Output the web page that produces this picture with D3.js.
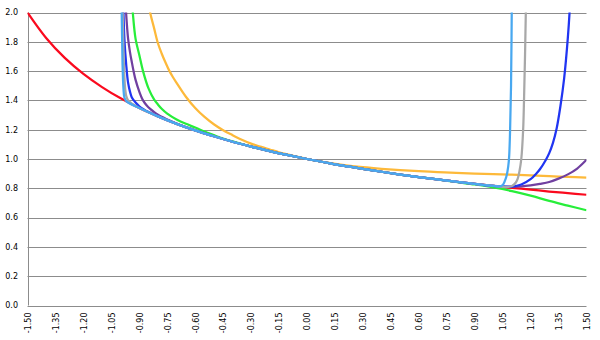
<!DOCTYPE html>
<html>
<head>
<meta charset="utf-8">
<script src="https://cdn.jsdelivr.net/npm/d3@7"></script>
<style>
  body { margin: 0; background: #fff; }
  text { font-family: "DejaVu Sans", Verdana, sans-serif; font-size: 8px; fill: #000; }
</style>
</head>
<body>
<script>
// tick labels
const xTickLabels = ["-1.50","-1.35","-1.20","-1.05","-0.90","-0.75","-0.60","-0.45","-0.30","-0.15",
  "0.00","0.15","0.30","0.45","0.60","0.75","0.90","1.05","1.20","1.35","1.50"];
const yTickLabels = ["0.0","0.2","0.4","0.6","0.8","1.0","1.2","1.4","1.6","1.8","2.0"];

// series values
const redX = [-1.5,-1.4,-1.3,-1.2,-1.1,-1.0,-0.9,-0.8,-0.7,-0.6,-0.5,-0.4,-0.3,-0.2,-0.1,0,
  0.1,0.2,0.3,0.4,0.5,0.6,0.7,0.8,0.9,1.0,1.1,1.2,1.3,1.4,1.5];
const redY = [2.0,1.826,1.690,1.581,1.491,1.414,1.348,1.291,1.240,1.195,1.155,1.118,1.085,1.054,1.026,1.0,
  0.976,0.953,0.933,0.913,0.894,0.877,0.861,0.845,0.830,0.816,0.803,0.791,0.778,0.767,0.756];

const orangeX = [-0.85,-0.842,-0.82,-0.8,-0.78,-0.76,-0.74,-0.72,-0.7,-0.65,-0.6,-0.55,-0.5,-0.45,-0.4,
  -0.35,-0.3,-0.25,-0.2,-0.15,-0.1,-0.05,0,0.1,0.2,0.3,0.4,0.5,0.6,0.7,0.8,0.9,1.0,1.1,1.2,1.3,1.4,1.5];
const orangeY = [2.06,2.0,1.89,1.79,1.72,1.66,1.605,1.56,1.52,1.425,1.348,1.287,1.237,1.196,1.163,
  1.132,1.105,1.084,1.065,1.046,1.03,1.014,1.0,0.977,0.958,0.944,0.933,0.924,0.917,0.911,0.905,0.901,0.897,0.893,0.888,0.883,0.878,0.873];

const greenX = [-0.94,-0.935,-0.92,-0.9,-0.88,-0.85,-0.82,-0.8,-0.78,-0.75,-0.7,-0.65,-0.6,-0.55,-0.5,
  -0.45,-0.4,-0.3,-0.2,-0.1,0,0.1,0.2,0.3,0.4,0.5,0.6,0.7,0.8,0.9,1.0,1.1,1.2,1.3,1.4,1.5];
const greenY = [2.08,2.0,1.82,1.71,1.60,1.48,1.405,1.372,1.343,1.31,1.27,1.24,1.215,1.187,1.163,
  1.14,1.12,1.085,1.054,1.026,1.0,0.976,0.953,0.933,0.913,0.894,0.877,0.861,0.843,0.826,0.806,0.781,0.75,0.714,0.682,0.65];

const purpleX = [-0.975,-0.971,-0.965,-0.96,-0.95,-0.94,-0.93,-0.92,-0.9,-0.88,-0.86,-0.84,-0.82,-0.8,-0.78,
  -0.75,-0.7,-0.6,-0.5,-0.4,-0.3,-0.2,-0.1,0,0.1,0.2,0.3,0.4,0.5,0.6,0.7,0.8,0.9,1.0,
  1.05,1.1,1.15,1.2,1.25,1.3,1.35,1.4,1.45,1.5];
const purpleY = [2.1,2.0,1.89,1.82,1.73,1.66,1.595,1.54,1.46,1.40,1.365,1.34,1.32,1.303,1.288,
  1.27,1.242,1.195,1.155,1.118,1.085,1.054,1.026,1.0,0.976,0.953,0.933,0.913,0.894,0.877,0.861,0.845,0.830,0.816,
  0.812,0.81,0.813,0.82,0.83,0.843,0.866,0.895,0.935,0.995];

const blueX = [-0.99,-0.985,-0.98,-0.975,-0.97,-0.965,-0.96,-0.95,-0.94,-0.92,-0.9,-0.88,-0.85,-0.8,-0.7,
  -0.6,-0.5,-0.4,-0.3,-0.2,-0.1,0,0.1,0.2,0.3,0.4,0.5,0.6,0.7,0.8,0.9,1.0,
  1.1,1.15,1.2,1.23,1.25,1.28,1.3,1.32,1.34,1.36,1.38,1.4,1.41,1.415];
const blueY = [2.35,2.0,1.82,1.72,1.64,1.57,1.52,1.46,1.42,1.385,1.36,1.342,1.32,1.291,1.24,
  1.195,1.155,1.118,1.085,1.054,1.026,1.0,0.976,0.953,0.933,0.913,0.894,0.877,0.861,0.845,0.830,0.816,
  0.812,0.826,0.862,0.9,0.93,0.99,1.04,1.11,1.21,1.36,1.55,1.83,2.02,2.15];

const grayX = [-0.995,-0.99,-0.985,-0.98,-0.975,-0.97,-0.96,-0.95,-0.94,-0.9,-0.8,-0.7,-0.6,-0.5,-0.4,
  -0.3,-0.2,-0.1,0,0.1,0.2,0.3,0.4,0.5,0.6,0.7,0.8,0.9,1.0,
  1.05,1.08,1.1,1.12,1.13,1.14,1.15,1.16,1.165,1.17,1.175,1.18];
const grayY = [2.35,2.05,1.75,1.56,1.47,1.43,1.40,1.388,1.377,1.348,1.291,1.24,1.195,1.155,1.118,
  1.085,1.054,1.026,1.0,0.976,0.953,0.933,0.913,0.894,0.877,0.861,0.845,0.830,0.816,
  0.81,0.809,0.815,0.838,0.862,0.915,1.0,1.2,1.42,1.7,2.05,2.4];

const lightBlueX = [-1.0,-0.995,-0.99,-0.985,-0.98,-0.97,-0.9,-0.8,-0.7,-0.6,-0.5,-0.4,-0.3,-0.2,-0.1,0,
  0.1,0.2,0.3,0.4,0.5,0.6,0.7,0.8,0.9,1.0,1.03,1.05,1.06,1.07,1.08,1.085,1.09,1.095,1.1];
const lightBlueY = [2.5,2.05,1.65,1.48,1.42,1.395,1.348,1.291,1.24,1.195,1.155,1.118,1.085,1.054,1.026,1.0,
  0.976,0.953,0.933,0.913,0.894,0.877,0.861,0.845,0.830,0.816,0.813,0.822,0.845,0.88,0.95,1.02,1.2,1.5,2.2];

// draw order: last one ends up on top
const series = [
  {x: redX, y: redY, color: "#fa0a1e"},
  {x: orangeX, y: orangeY, color: "#fdb93a"},
  {x: greenX, y: greenY, color: "#27ee3a"},
  {x: purpleX, y: purpleY, color: "#7040a0"},
  {x: blueX, y: blueY, color: "#2035f2"},
  {x: grayX, y: grayY, color: "#a8a8a8"},
  {x: lightBlueX, y: lightBlueY, color: "#48a8f0"}
];

const width = 600, height = 340;
const margin = {top: 12.5, right: 13.5, bottom: 34.5, left: 27.5};

const svg = d3.select("body").append("svg")
  .attr("width", width)
  .attr("height", height);

const x = d3.scaleLinear()
  .domain([+xTickLabels[0], +xTickLabels[xTickLabels.length - 1]])
  .range([margin.left, width - margin.right]);
const y = d3.scaleLinear()
  .domain([+yTickLabels[0], +yTickLabels[yTickLabels.length - 1]])
  .range([height - margin.bottom, margin.top]);

// horizontal gridlines
svg.append("g")
  .selectAll("line")
  .data(yTickLabels.slice(1))
  .join("line")
    .attr("x1", margin.left)
    .attr("x2", width - margin.right)
    .attr("y1", d => Math.round(y(+d)) + 0.5)
    .attr("y2", d => Math.round(y(+d)) + 0.5)
    .attr("stroke", "#8c8c8c")
    .attr("stroke-width", 1);

// y labels
svg.append("g")
  .selectAll("text")
  .data(yTickLabels)
  .join("text")
    .attr("x", 18)
    .attr("y", d => y(+d))
    .attr("dy", "0.35em")
    .attr("text-anchor", "end")
    .text(d => d);

// x labels, rotated
svg.append("g")
  .selectAll("text")
  .data(xTickLabels)
  .join("text")
    .attr("transform", d => `translate(${x(+d) + 0.5},${height - margin.bottom + 7}) rotate(-90)`)
    .attr("dy", "0.35em")
    .attr("text-anchor", "end")
    .text(d => d);

// axis lines
svg.append("line")
  .attr("x1", Math.round(x.range()[0]) + 0.5).attr("x2", Math.round(x.range()[0]) + 0.5)
  .attr("y1", y.range()[1]).attr("y2", y.range()[0])
  .attr("stroke", "#8c8c8c");
svg.append("line")
  .attr("x1", margin.left).attr("x2", width - margin.right)
  .attr("y1", Math.round(y(0)) + 0.5).attr("y2", Math.round(y(0)) + 0.5)
  .attr("stroke", "#8c8c8c");

// clip lines to the plot area
svg.append("defs").append("clipPath")
  .attr("id", "plot-clip")
  .append("rect")
    .attr("x", margin.left)
    .attr("y", margin.top)
    .attr("width", width - margin.left - margin.right)
    .attr("height", height - margin.top - margin.bottom);

const line = d3.line()
  .x(d => x(d[0]))
  .y(d => y(d[1]))
  .curve(d3.curveCatmullRom.alpha(0.5));

svg.append("g")
  .attr("clip-path", "url(#plot-clip)")
  .selectAll("path")
  .data(series)
  .join("path")
    .attr("d", s => line(d3.zip(s.x, s.y)))
    .attr("fill", "none")
    .attr("stroke", s => s.color)
    .attr("stroke-width", 2.25)
    .attr("stroke-linejoin", "round");
</script>
</body>
</html>
